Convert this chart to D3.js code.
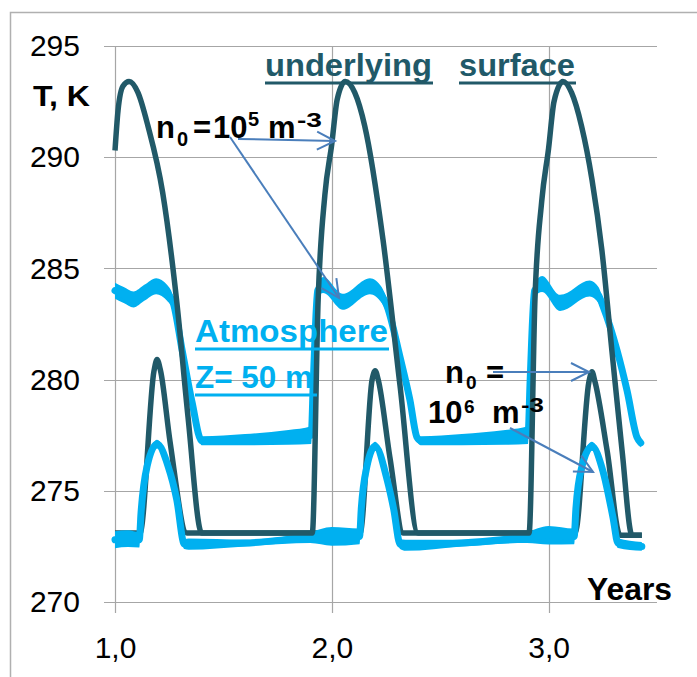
<!DOCTYPE html>
<html>
<head>
<meta charset="utf-8">
<script src="https://cdn.jsdelivr.net/npm/d3@7"></script>
<style>
  body { margin: 0; background: #fff; }
  svg { display: block; }
</style>
</head>
<body>
<div id="chart"></div>
<script>
// temperature T, K against time in years

// underlying surface, n0 = 10^5 m^-3
var surf5X = [1.000, 1.014, 1.037, 1.065, 1.106, 1.152, 1.220, 1.286, 1.337, 1.400,
              1.910, 1.937, 1.968, 2.000, 2.025, 2.062, 2.106, 2.152, 2.236, 2.315, 2.398,
              2.910, 2.937, 2.968, 3.000, 3.025, 3.066, 3.106, 3.152, 3.200, 3.246, 3.292, 3.339, 3.385, 3.430];
var surf5T = [290.3, 292.1, 293.2, 293.4, 292.9, 291.4, 288.4, 283.4, 278.3, 273.1,
              273.1, 283.6, 288.3, 290.6, 292.6, 293.4, 292.9, 291.4, 286.3, 279.7, 273.1,
              273.1, 283.6, 288.0, 290.4, 292.5, 293.4, 292.9, 291.4, 289.0, 285.8, 281.3, 276.8, 273.0, 273.0];

// underlying surface, n0 = 10^6 m^-3
var surf6X = [1.000, 1.115, 1.180, 1.194, 1.210, 1.254, 1.332,
              2.130, 2.186, 2.200, 2.214, 2.268, 2.330,
              3.122, 3.186, 3.200, 3.214, 3.270, 3.330, 3.430];
var surf6T = [273.1, 273.1, 280.4, 280.9, 280.4, 277.2, 273.1,
              273.1, 280.0, 280.4, 280.0, 276.5, 273.1,
              273.1, 279.9, 280.35, 279.9, 276.8, 273.0, 273.0];

// atmosphere Z = 50 m, n0 = 10^5 m^-3 (mean and half of daily swing)
var atm5X = [1.000, 1.040, 1.085, 1.135, 1.190, 1.240, 1.270, 1.310, 1.355, 1.400, 1.600, 1.800, 1.905,
             1.915, 1.935, 1.960, 2.050, 2.176, 2.230, 2.255, 2.315, 2.360, 2.393, 2.410, 2.600, 2.800, 2.905,
             2.915, 2.935, 2.970, 3.053, 3.190, 3.230, 3.251, 3.316, 3.362, 3.408, 3.425];
var atm5T = [284.0, 283.8, 283.6, 283.9, 284.2, 283.9, 283.4, 281.3, 279.0, 277.25, 277.3, 277.4, 277.5,
             280.0, 284.0, 284.25, 283.5, 284.2, 283.8, 283.3, 281.0, 279.1, 277.4, 277.25, 277.3, 277.4, 277.5,
             280.0, 284.0, 284.3, 283.45, 284.1, 283.8, 283.3, 281.3, 279.5, 277.4, 277.15];
var atm5Swing = [0.36, 0.36, 0.36, 0.36, 0.36, 0.36, 0.3, 0.2, 0.2, 0.2, 0.25, 0.33, 0.4,
                 0.3, 0.3, 0.36, 0.36, 0.36, 0.36, 0.3, 0.2, 0.2, 0.2, 0.2, 0.25, 0.33, 0.4,
                 0.3, 0.3, 0.36, 0.36, 0.36, 0.36, 0.3, 0.2, 0.2, 0.2, 0.2];

// atmosphere Z = 50 m, n0 = 10^6 m^-3
var atm6X = [1.000, 1.060, 1.112, 1.120, 1.148, 1.194, 1.245, 1.285, 1.320, 1.340, 1.600, 1.900, 2.000,
             2.128, 2.136, 2.162, 2.200, 2.255, 2.285, 2.315, 2.340, 2.600, 2.900, 3.000,
             3.118, 3.126, 3.154, 3.200, 3.250, 3.297, 3.320, 3.430];
var atm6T = [272.8, 272.85, 272.8, 274.0, 276.1, 277.1, 276.1, 274.6, 272.6, 272.6, 272.65, 272.9, 272.95,
             272.95, 274.2, 276.1, 277.0, 275.5, 274.2, 272.6, 272.55, 272.65, 272.9, 273.0,
             272.95, 274.2, 276.1, 277.0, 275.9, 273.8, 272.65, 272.5];
var atm6Swing = [0.38, 0.38, 0.35, 0.2, 0.2, 0.2, 0.2, 0.2, 0.22, 0.25, 0.15, 0.25, 0.42,
                 0.35, 0.2, 0.2, 0.2, 0.2, 0.2, 0.22, 0.25, 0.15, 0.25, 0.42,
                 0.35, 0.2, 0.2, 0.2, 0.2, 0.2, 0.22, 0.2];

var yTicks = [270, 275, 280, 285, 290, 295];
var xTicks = [1, 2, 3];

var W = 697, H = 677;
var teal = "#215968", sky = "#00b0f0", arrowCol = "#4a7ebb", gridCol = "#a6a6a6";
var font = "'Liberation Sans', Arial, sans-serif";

var svg = d3.select("#chart").append("svg")
    .attr("width", W)
    .attr("height", H);

// chart frame
svg.append("rect")
    .attr("x", 10.5).attr("y", 12.5)
    .attr("width", 800).attr("height", 800)
    .attr("fill", "none")
    .attr("stroke", "#b0b0b0")
    .attr("stroke-width", 1.5);

var x = d3.scaleLinear().domain([1, 3.5]).range([115, 657]);
var y = d3.scaleLinear().domain([270, 295]).range([602, 46]);

// grid
svg.append("g").selectAll("line").data(yTicks).join("line")
    .attr("x1", 104).attr("x2", x(3.5))
    .attr("y1", d => Math.round(y(d)) + 0.5).attr("y2", d => Math.round(y(d)) + 0.5)
    .attr("stroke", gridCol).attr("stroke-width", 1.2);
svg.append("g").selectAll("line").data(xTicks).join("line")
    .attr("x1", d => Math.round(x(d)) + 0.5).attr("x2", d => Math.round(x(d)) + 0.5)
    .attr("y1", y(295)).attr("y2", y(270) + 11)
    .attr("stroke", gridCol).attr("stroke-width", 1.2);

// axes labels
var yAxis = svg.append("g")
    .attr("transform", "translate(" + x(1) + ",0)")
    .call(d3.axisLeft(y).tickValues(yTicks).tickSize(0).tickPadding(35));
var xAxis = svg.append("g")
    .attr("transform", "translate(0," + y(270) + ")")
    .call(d3.axisBottom(x).tickValues(xTicks).tickSize(0).tickPadding(35)
        .tickFormat(d => d3.format(".1f")(d).replace(".", ",")));
[yAxis, xAxis].forEach(function (g) {
    g.select(".domain").remove();
    g.selectAll("text")
        .attr("font-family", font)
        .attr("font-size", 30)
        .attr("fill", "#000");
});

function pts(xs, ts, sw) {
    return xs.map((v, i) => ({x: v, t: ts[i], s: sw ? sw[i] : 0}));
}

var line = d3.line().x(d => x(d.x)).y(d => y(d.t)).curve(d3.curveMonotoneX);
var band = d3.area().x(d => x(d.x))
    .y0(d => y(d.t - d.s)).y1(d => y(d.t + d.s))
    .curve(d3.curveMonotoneX);

var plot = svg.append("g");

// surface n0=1e6 below its atmosphere band
plot.append("path").datum(pts(surf6X, surf6T))
    .attr("d", line).attr("fill", "none")
    .attr("stroke", teal).attr("stroke-width", 5.5)
    .attr("stroke-linejoin", "round");

[[atm6X, atm6T, atm6Swing], [atm5X, atm5T, atm5Swing]].forEach(function (s) {
    var data = pts(s[0], s[1], s[2]);
    plot.append("path").datum(data)
        .attr("d", band).attr("fill", sky);
    plot.append("path").datum(data)
        .attr("d", line).attr("fill", "none")
        .attr("stroke", sky).attr("stroke-width", 7)
        .attr("stroke-linejoin", "round").attr("stroke-linecap", "round");
});

plot.append("path").datum(pts(surf5X, surf5T))
    .attr("d", line).attr("fill", "none")
    .attr("stroke", teal).attr("stroke-width", 5.5)
    .attr("stroke-linejoin", "round");

// text helpers
function label(txt, px, py, size, color, weight, len) {
    var t = svg.append("text")
        .attr("x", px).attr("y", py)
        .attr("font-family", font)
        .attr("font-size", size)
        .attr("font-weight", weight || "bold")
        .attr("fill", color || "#000")
        .text(txt);
    if (len) t.attr("textLength", len).attr("lengthAdjust", "spacingAndGlyphs");
    return t;
}
function underline(x1, x2, py, color) {
    svg.append("line")
        .attr("x1", x1).attr("x2", x2)
        .attr("y1", py).attr("y2", py)
        .attr("stroke", color).attr("stroke-width", 3);
}

label("T, K", 33, 106, 29, "#000", "bold", 57);
label("Years", 587, 600, 31, "#000", "bold", 85);

label("underlying", 265, 76, 32, teal, "bold", 167);
underline(265, 433, 83, teal);
label("surface", 459, 76, 32, teal, "bold", 116);
underline(459, 576, 83, teal);

label("Atmosphere", 195, 342, 32, sky, "bold", 193);
underline(195, 389, 349, sky);
label("Z= 50 m", 195, 388, 32, sky, "bold", 118);
underline(195, 317, 395, sky);

// n0 = 10^5 m^-3
label("n", 156, 138, 31);
label("0", 177, 146, 20);
label("=", 193, 138, 31);
label("10", 213, 138, 31);
label("5", 248, 126, 20);
label("m", 268, 138, 31);
label("-3", 297, 127, 20, "#000", "bold", 25);

// n0 = 10^6 m^-3
label("n", 445, 383, 31);
label("0", 466, 389, 19);
label("=", 486, 383, 31);
label("10", 428, 423, 31);
label("6", 464, 413, 19);
label("m", 492, 423, 31);
label("-3", 521, 412, 20, "#000", "bold", 23);

// arrows
var defs = svg.append("defs");
defs.append("marker")
    .attr("id", "arr")
    .attr("viewBox", "-21 -12 24 24")
    .attr("refX", 0).attr("refY", 0)
    .attr("markerWidth", 24).attr("markerHeight", 24)
    .attr("markerUnits", "userSpaceOnUse")
    .attr("orient", "auto")
    .append("path")
    .attr("d", "M-18,-9L0,0L-18,9")
    .attr("fill", "none")
    .attr("stroke", arrowCol)
    .attr("stroke-width", 2);

var arrows = [
    [238, 139, 335, 141],
    [230, 137, 339, 298],
    [493, 372, 589, 372],
    [510, 428, 593, 472]
];
svg.append("g").selectAll("line").data(arrows).join("line")
    .attr("x1", d => d[0]).attr("y1", d => d[1])
    .attr("x2", d => d[2]).attr("y2", d => d[3])
    .attr("stroke", arrowCol).attr("stroke-width", 2)
    .attr("marker-end", "url(#arr)");
</script>
</body>
</html>
